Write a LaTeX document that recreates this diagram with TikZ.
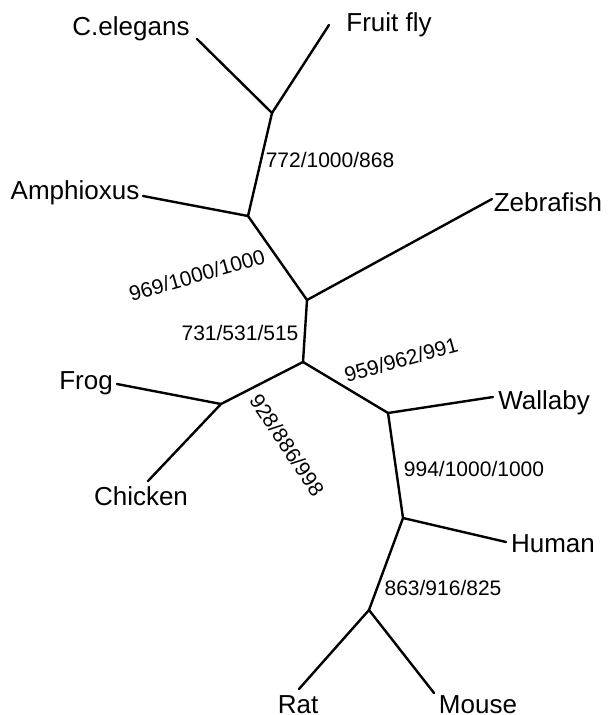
\documentclass[tikz,border=0pt]{standalone}
\usepackage{fontspec}
\setmainfont{Liberation Sans}
\usepackage{tikz}

\begin{document}
\begin{tikzpicture}[x=0.5pt,y=-0.5pt,line width=1.2pt,line cap=round,
  leaf/.style={anchor=base,inner sep=0pt,font=\fontsize{13}{15}\selectfont},
  boot/.style={inner sep=0pt,font=\fontsize{10.5}{12}\selectfont}]
  \useasboundingbox (0,0) rectangle (607,715);
  % inner nodes of the tree
  \coordinate (n1) at (272,113);
  \coordinate (n2) at (248,216);
  \coordinate (n3) at (307,300);
  \coordinate (n4) at (303,362);
  \coordinate (n5) at (221,404);
  \coordinate (n6) at (388,413);
  \coordinate (n7) at (403,518);
  \coordinate (n8) at (369,610);
  % branch tips
  \coordinate (celegans) at (197,39);
  \coordinate (fruitfly) at (329,25);
  \coordinate (amphioxus) at (143,196);
  \coordinate (zebrafish) at (492,199);
  \coordinate (frog) at (117,384);
  \coordinate (chicken) at (148,481);
  \coordinate (wallaby) at (493,397);
  \coordinate (human) at (506,542);
  \coordinate (rat) at (299,689);
  \coordinate (mouse) at (434,693);
  \draw (n1) -- (celegans);
  \draw (n1) -- (fruitfly);
  \draw (n1) -- (n2);
  \draw (n2) -- (amphioxus);
  \draw (n2) -- (n3);
  \draw (n3) -- (zebrafish);
  \draw (n3) -- (n4);
  \draw (n4) -- (n5);
  \draw (n5) -- (frog);
  \draw (n5) -- (chicken);
  \draw (n4) -- (n6);
  \draw (n6) -- (wallaby);
  \draw (n6) -- (n7);
  \draw (n7) -- (human);
  \draw (n7) -- (n8);
  \draw (n8) -- (rat);
  \draw (n8) -- (mouse);
  % species
  \node[leaf] (lcelegans) at (131,36) {C.elegans};
  \node[leaf] (lfruitfly) at (389,32) {Fruit fly};
  \node[leaf] (lamphioxus) at (75,200) {Amphioxus};
  \node[leaf] (lzebrafish) at (548,212) {Zebrafish};
  \node[leaf] (lfrog) at (86,389) {Frog};
  \node[leaf] (lchicken) at (141,505) {Chicken};
  \node[leaf] (lwallaby) at (544,409) {Wallaby};
  \node[leaf] (lhuman) at (553,552) {Human};
  \node[leaf] (lrat) at (298,713) {Rat};
  \node[leaf] (lmouse) at (478,713) {Mouse};
  % bootstrap values
  \node[boot,anchor=base] (b1) at (330,168) {772/1000/868};
  \node[boot,rotate=16] (b2) at (197,275) {969/1000/1000};
  \node[boot,anchor=base] (b3) at (240,340) {731/531/515};
  \node[boot,rotate=15.5] (b4) at (401,360) {959/962/991};
  \node[boot,rotate=-56.5] (b5) at (287,445) {928/886/998};
  \node[boot,anchor=base] (b6) at (474,476) {994/1000/1000};
  \node[boot,anchor=base] (b7) at (443,595) {863/916/825};
\end{tikzpicture}
\end{document}
